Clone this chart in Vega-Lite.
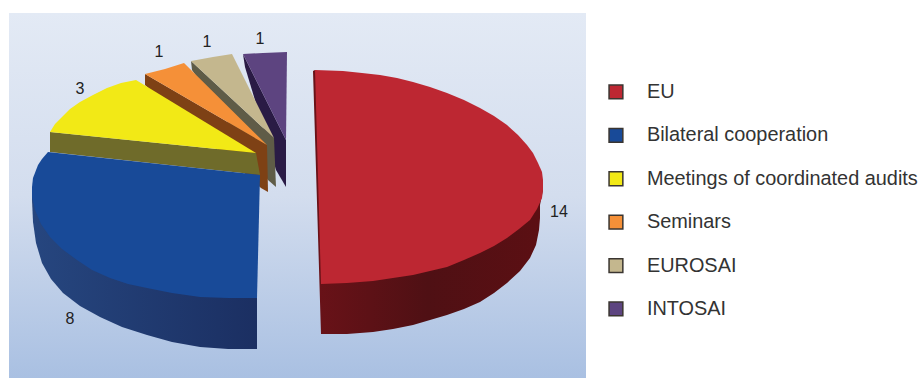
{
  "$schema": "https://vega.github.io/schema/vega-lite/v6.json",
  "autosize": {"type": "none"},
  "padding": {"left": 9, "top": 13, "right": 335, "bottom": 0},
  "width": 577,
  "height": 365,
  "background": "#ffffff",
  "view": {"stroke": null},
  "config": {"font": "Liberation Sans"},
  "datasets": {
    "sides": [
      {"slice":"INTOSAI","n":0,"x":234,"y":324},{"slice":"INTOSAI","n":1,"x":277,"y":238},{"slice":"INTOSAI","n":2,"x":277,"y":191},{"slice":"INTOSAI","n":3,"x":267,"y":208},{"slice":"INTOSAI","n":4,"x":236,"y":311},
      {"slice":"EUROSAI","n":0,"x":182,"y":317},{"slice":"EUROSAI","n":1,"x":265,"y":240},{"slice":"EUROSAI","n":2,"x":267,"y":191},{"slice":"EUROSAI","n":3,"x":259,"y":198},{"slice":"EUROSAI","n":4,"x":183,"y":308},
      {"slice":"Seminars","n":0,"x":136,"y":304},{"slice":"Seminars","n":1,"x":258,"y":233},{"slice":"Seminars","n":2,"x":259,"y":186},{"slice":"Seminars","n":3,"x":252,"y":190},{"slice":"Seminars","n":4,"x":136,"y":293},
      {"slice":"Meetings of coordinated audits","n":0,"x":41,"y":246},{"slice":"Meetings of coordinated audits","n":1,"x":247,"y":225},{"slice":"Meetings of coordinated audits","n":2,"x":251,"y":203},{"slice":"Meetings of coordinated audits","n":3,"x":41,"y":226},
      {"slice":"Bilateral cooperation","n":0,"x":23,"y":191},{"slice":"Bilateral cooperation","n":1,"x":23,"y":178},{"slice":"Bilateral cooperation","n":2,"x":24,"y":156},{"slice":"Bilateral cooperation","n":3,"x":27,"y":135},{"slice":"Bilateral cooperation","n":4,"x":33,"y":115},{"slice":"Bilateral cooperation","n":5,"x":42,"y":99},{"slice":"Bilateral cooperation","n":6,"x":54,"y":85},{"slice":"Bilateral cooperation","n":7,"x":71,"y":72},{"slice":"Bilateral cooperation","n":8,"x":91,"y":61},{"slice":"Bilateral cooperation","n":9,"x":113,"y":51},{"slice":"Bilateral cooperation","n":10,"x":138,"y":43},{"slice":"Bilateral cooperation","n":11,"x":163,"y":36},{"slice":"Bilateral cooperation","n":12,"x":191,"y":31},{"slice":"Bilateral cooperation","n":13,"x":219,"y":29},{"slice":"Bilateral cooperation","n":14,"x":248,"y":29},{"slice":"Bilateral cooperation","n":15,"x":248,"y":80},
      {"slice":"EU","n":0,"x":534,"y":188},{"slice":"EU","n":1,"x":531,"y":173},{"slice":"EU","n":2,"x":531,"y":160},{"slice":"EU","n":3,"x":530,"y":148},{"slice":"EU","n":4,"x":527,"y":133},{"slice":"EU","n":5,"x":521,"y":120},{"slice":"EU","n":6,"x":511,"y":107},{"slice":"EU","n":7,"x":498,"y":95},{"slice":"EU","n":8,"x":485,"y":85},{"slice":"EU","n":9,"x":471,"y":76},{"slice":"EU","n":10,"x":455,"y":69},{"slice":"EU","n":11,"x":438,"y":63},{"slice":"EU","n":12,"x":421,"y":58},{"slice":"EU","n":13,"x":404,"y":53},{"slice":"EU","n":14,"x":384,"y":49},{"slice":"EU","n":15,"x":364,"y":46},{"slice":"EU","n":16,"x":338,"y":44},{"slice":"EU","n":17,"x":312,"y":44},{"slice":"EU","n":18,"x":304,"y":307},{"slice":"EU","n":19,"x":306,"y":308}
    ],
    "tops": [
      {"slice":"INTOSAI","n":0,"x":234,"y":324},{"slice":"INTOSAI","n":1,"x":254,"y":325},{"slice":"INTOSAI","n":2,"x":278,"y":326},{"slice":"INTOSAI","n":3,"x":277,"y":238},
      {"slice":"EUROSAI","n":0,"x":182,"y":317},{"slice":"EUROSAI","n":1,"x":204,"y":321},{"slice":"EUROSAI","n":2,"x":223,"y":324},{"slice":"EUROSAI","n":3,"x":265,"y":240},
      {"slice":"Seminars","n":0,"x":136,"y":304},{"slice":"Seminars","n":1,"x":156,"y":309},{"slice":"Seminars","n":2,"x":175,"y":315},{"slice":"Seminars","n":3,"x":258,"y":233},
      {"slice":"Meetings of coordinated audits","n":0,"x":41,"y":246},{"slice":"Meetings of coordinated audits","n":1,"x":46,"y":254},{"slice":"Meetings of coordinated audits","n":2,"x":53,"y":261},{"slice":"Meetings of coordinated audits","n":3,"x":61,"y":269},{"slice":"Meetings of coordinated audits","n":4,"x":71,"y":276},{"slice":"Meetings of coordinated audits","n":5,"x":84,"y":283},{"slice":"Meetings of coordinated audits","n":6,"x":98,"y":290},{"slice":"Meetings of coordinated audits","n":7,"x":112,"y":295},{"slice":"Meetings of coordinated audits","n":8,"x":127,"y":298},{"slice":"Meetings of coordinated audits","n":9,"x":247,"y":225},
      {"slice":"Bilateral cooperation","n":0,"x":39,"y":226},{"slice":"Bilateral cooperation","n":1,"x":33,"y":219},{"slice":"Bilateral cooperation","n":2,"x":29,"y":213},{"slice":"Bilateral cooperation","n":3,"x":24,"y":200},{"slice":"Bilateral cooperation","n":4,"x":23,"y":191},{"slice":"Bilateral cooperation","n":5,"x":23,"y":181},{"slice":"Bilateral cooperation","n":6,"x":26,"y":168},{"slice":"Bilateral cooperation","n":7,"x":32,"y":154},{"slice":"Bilateral cooperation","n":8,"x":41,"y":141},{"slice":"Bilateral cooperation","n":9,"x":53,"y":129},{"slice":"Bilateral cooperation","n":10,"x":68,"y":118},{"slice":"Bilateral cooperation","n":11,"x":83,"y":108},{"slice":"Bilateral cooperation","n":12,"x":101,"y":100},{"slice":"Bilateral cooperation","n":13,"x":119,"y":94},{"slice":"Bilateral cooperation","n":14,"x":138,"y":90},{"slice":"Bilateral cooperation","n":15,"x":163,"y":85},{"slice":"Bilateral cooperation","n":16,"x":191,"y":81},{"slice":"Bilateral cooperation","n":17,"x":219,"y":80},{"slice":"Bilateral cooperation","n":18,"x":248,"y":80},{"slice":"Bilateral cooperation","n":19,"x":251,"y":203},
      {"slice":"EU","n":0,"x":306,"y":308},{"slice":"EU","n":1,"x":334,"y":307},{"slice":"EU","n":2,"x":353,"y":305},{"slice":"EU","n":3,"x":371,"y":303},{"slice":"EU","n":4,"x":388,"y":300},{"slice":"EU","n":5,"x":404,"y":296},{"slice":"EU","n":6,"x":421,"y":291},{"slice":"EU","n":7,"x":438,"y":285},{"slice":"EU","n":8,"x":455,"y":278},{"slice":"EU","n":9,"x":471,"y":270},{"slice":"EU","n":10,"x":485,"y":262},{"slice":"EU","n":11,"x":498,"y":253},{"slice":"EU","n":12,"x":509,"y":243},{"slice":"EU","n":13,"x":518,"y":233},{"slice":"EU","n":14,"x":524,"y":225},{"slice":"EU","n":15,"x":529,"y":215},{"slice":"EU","n":16,"x":533,"y":206},{"slice":"EU","n":17,"x":534,"y":198},{"slice":"EU","n":18,"x":534,"y":188},{"slice":"EU","n":19,"x":533,"y":180},{"slice":"EU","n":20,"x":528,"y":169},{"slice":"EU","n":21,"x":521,"y":158},{"slice":"EU","n":22,"x":510,"y":149},{"slice":"EU","n":23,"x":498,"y":140},{"slice":"EU","n":24,"x":485,"y":132},{"slice":"EU","n":25,"x":471,"y":125},{"slice":"EU","n":26,"x":455,"y":118},{"slice":"EU","n":27,"x":438,"y":111},{"slice":"EU","n":28,"x":421,"y":107},{"slice":"EU","n":29,"x":404,"y":103},{"slice":"EU","n":30,"x":384,"y":100},{"slice":"EU","n":31,"x":364,"y":97},{"slice":"EU","n":32,"x":338,"y":95},{"slice":"EU","n":33,"x":312,"y":94}
    ],
    "counts": [
      {"slice":"EU","value":14,"x":550,"y":166},
      {"slice":"Bilateral cooperation","value":8,"x":61,"y":59},
      {"slice":"Meetings of coordinated audits","value":3,"x":71,"y":289},
      {"slice":"Seminars","value":1,"x":150,"y":326},
      {"slice":"EUROSAI","value":1,"x":198,"y":336},
      {"slice":"INTOSAI","value":1,"x":251,"y":339}
    ]
  },
  "layer": [
    {
      "data": {"values": [{}]},
      "mark": {"type": "rect", "fill": {"gradient": "linear", "x1": 0, "y1": 0, "x2": 0, "y2": 1, "stops": [{"offset": 0, "color": "#e3eaf5"}, {"offset": 0.5, "color": "#d3ddee"}, {"offset": 1, "color": "#a9c0e2"}]}},
      "encoding": {}
    },
    {
      "data": {"name": "sides"},
      "transform": [{"filter": "datum.slice !== 'EU' && datum.slice !== 'Bilateral cooperation'"}],
      "mark": {"type": "line", "filled": true, "strokeWidth": 0.5, "strokeJoin": "round", "clip": true},
      "encoding": {
        "x": {"field": "x", "type": "quantitative", "scale": {"domain": [0, 577]}, "axis": null},
        "y": {"field": "y", "type": "quantitative", "scale": {"domain": [0, 365]}, "axis": null},
        "order": {"field": "n", "type": "ordinal"},
        "fill": {"field": "slice", "type": "nominal", "legend": null, "scale": {
          "domain": ["Meetings of coordinated audits", "Seminars", "EUROSAI", "INTOSAI"],
          "range": ["#6f6b2a", "#7e4115", "#5f5c47", "#2a1b45"]
        }}
      }
    },
    {
      "data": {"name": "sides"},
      "transform": [{"filter": "datum.slice === 'Bilateral cooperation'"}],
      "mark": {"type": "line", "strokeWidth": 0, "clip": true, "fill": {"gradient": "linear", "x1": 0, "y1": 0, "x2": 1, "y2": 0, "stops": [{"offset": 0, "color": "#26467f"}, {"offset": 1, "color": "#1b2f62"}]}},
      "encoding": {
        "x": {"field": "x", "type": "quantitative", "scale": {"domain": [0, 577]}, "axis": null},
        "y": {"field": "y", "type": "quantitative", "scale": {"domain": [0, 365]}, "axis": null},
        "order": {"field": "n", "type": "ordinal"}
      }
    },
    {
      "data": {"name": "sides"},
      "transform": [{"filter": "datum.slice === 'EU'"}],
      "mark": {"type": "line", "strokeWidth": 0, "clip": true, "fill": {"gradient": "linear", "x1": 0, "y1": 0, "x2": 1, "y2": 0, "stops": [{"offset": 0, "color": "#6a1218"}, {"offset": 0.5, "color": "#4f1014"}, {"offset": 1, "color": "#5c0f13"}]}},
      "encoding": {
        "x": {"field": "x", "type": "quantitative", "scale": {"domain": [0, 577]}, "axis": null},
        "y": {"field": "y", "type": "quantitative", "scale": {"domain": [0, 365]}, "axis": null},
        "order": {"field": "n", "type": "ordinal"}
      }
    },
    {
      "data": {"name": "tops"},
      "mark": {"type": "line", "filled": true, "strokeWidth": 0, "clip": true},
      "encoding": {
        "x": {"field": "x", "type": "quantitative", "scale": {"domain": [0, 577]}, "axis": null},
        "y": {"field": "y", "type": "quantitative", "scale": {"domain": [0, 365]}, "axis": null},
        "order": {"field": "n", "type": "ordinal"},
        "fill": {"field": "slice", "type": "nominal", "title": null, "scale": {
          "domain": ["EU", "Bilateral cooperation", "Meetings of coordinated audits", "Seminars", "EUROSAI", "INTOSAI"],
          "range": ["#bd2732", "#184a98", "#f2e916", "#f59038", "#c4b78e", "#5d4480"]
        }, "legend": {
          "orient": "none", "legendX": 597, "legendY": 69,
          "symbolType": "square", "symbolSize": 190, "symbolStrokeColor": "#3a3530", "symbolStrokeWidth": 1.5,
          "labelFontSize": 19.9, "labelColor": "#333333", "labelOffset": 21, "rowPadding": 22.4, "labelLimit": 300,
          "padding": 0
        }}
      }
    },
    {
      "data": {"name": "counts"},
      "mark": {"type": "text", "fontSize": 16, "color": "#222222"},
      "encoding": {
        "x": {"field": "x", "type": "quantitative", "scale": {"domain": [0, 577]}, "axis": null},
        "y": {"field": "y", "type": "quantitative", "scale": {"domain": [0, 365]}, "axis": null},
        "text": {"field": "value", "type": "quantitative"}
      }
    }
  ],
  "resolve": {"scale": {"fill": "independent"}}
}
